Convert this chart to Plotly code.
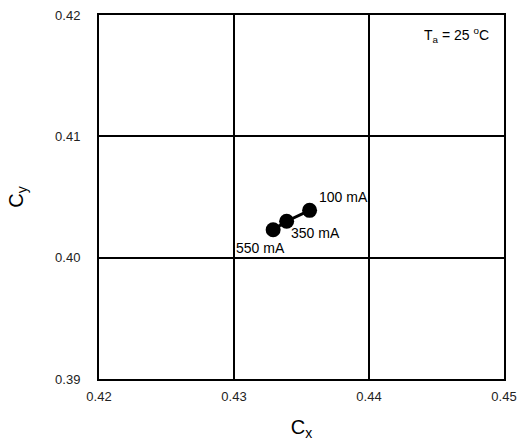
import plotly.graph_objects as go

cx = [0.4356, 0.4339, 0.4329]
cy = [0.4039, 0.4030, 0.4023]
labels = ["100 mA", "350 mA", "550 mA"]
x_ticks = [0.42, 0.43, 0.44, 0.45]
y_ticks = [0.39, 0.40, 0.41, 0.42]

FONT = "Liberation Sans, Arial"

fig = go.Figure()
fig.add_trace(go.Scatter(
    x=cx, y=cy, mode="lines+markers",
    line=dict(color="black", width=3),
    marker=dict(color="black", size=15),
    showlegend=False, hoverinfo="skip"))

# label placement offsets (pixels)
offsets = [("left", 7, 13), ("left", 2, -12), ("right", 14, -18)]
for x, y, t, (anc, xs, ys) in zip(cx, cy, labels, offsets):
    fig.add_annotation(x=x, y=y, text=t, showarrow=False,
                       xanchor=anc, yanchor="middle", xshift=xs, yshift=ys,
                       font=dict(family=FONT, size=14, color="black"))

fig.add_annotation(x=1, y=1, xref="paper", yref="paper", xanchor="right", yanchor="middle",
                   xshift=-13, yshift=-20, showarrow=False,
                   text="T<sub>a</sub> = 25 <sup>o</sup>C",
                   font=dict(family=FONT, size=14, color="black"))

axis_common = dict(showline=True, linecolor="black", linewidth=2, mirror=True,
                   showgrid=True, gridcolor="black", gridwidth=1.6, zeroline=False,
                   automargin=False, ticks="",
                   tickfont=dict(family=FONT, size=13, color="#222"))
fig.update_xaxes(range=[0.42, 0.45], tickvals=x_ticks, ticktext=[f"{v:.2f}" for v in x_ticks],
                 ticklabelstandoff=4,
                 title=dict(text="C<sub>x</sub>", font=dict(family=FONT, size=20, color="black"), standoff=20),
                 **axis_common)
fig.update_yaxes(range=[0.39, 0.42], tickvals=y_ticks, ticktext=[f"{v:.2f}" for v in y_ticks],
                 ticklabelstandoff=14,
                 title=dict(text="C<sub>y</sub>", font=dict(family=FONT, size=20, color="black"), standoff=26),
                 **axis_common)
fig.update_layout(width=521, height=441, margin=dict(l=99, r=17, t=15, b=62),
                  plot_bgcolor="white", paper_bgcolor="white")
fig.write_html("out.html", config={"displayModeBar": False},
               post_script="document.body.style.margin='0';")
